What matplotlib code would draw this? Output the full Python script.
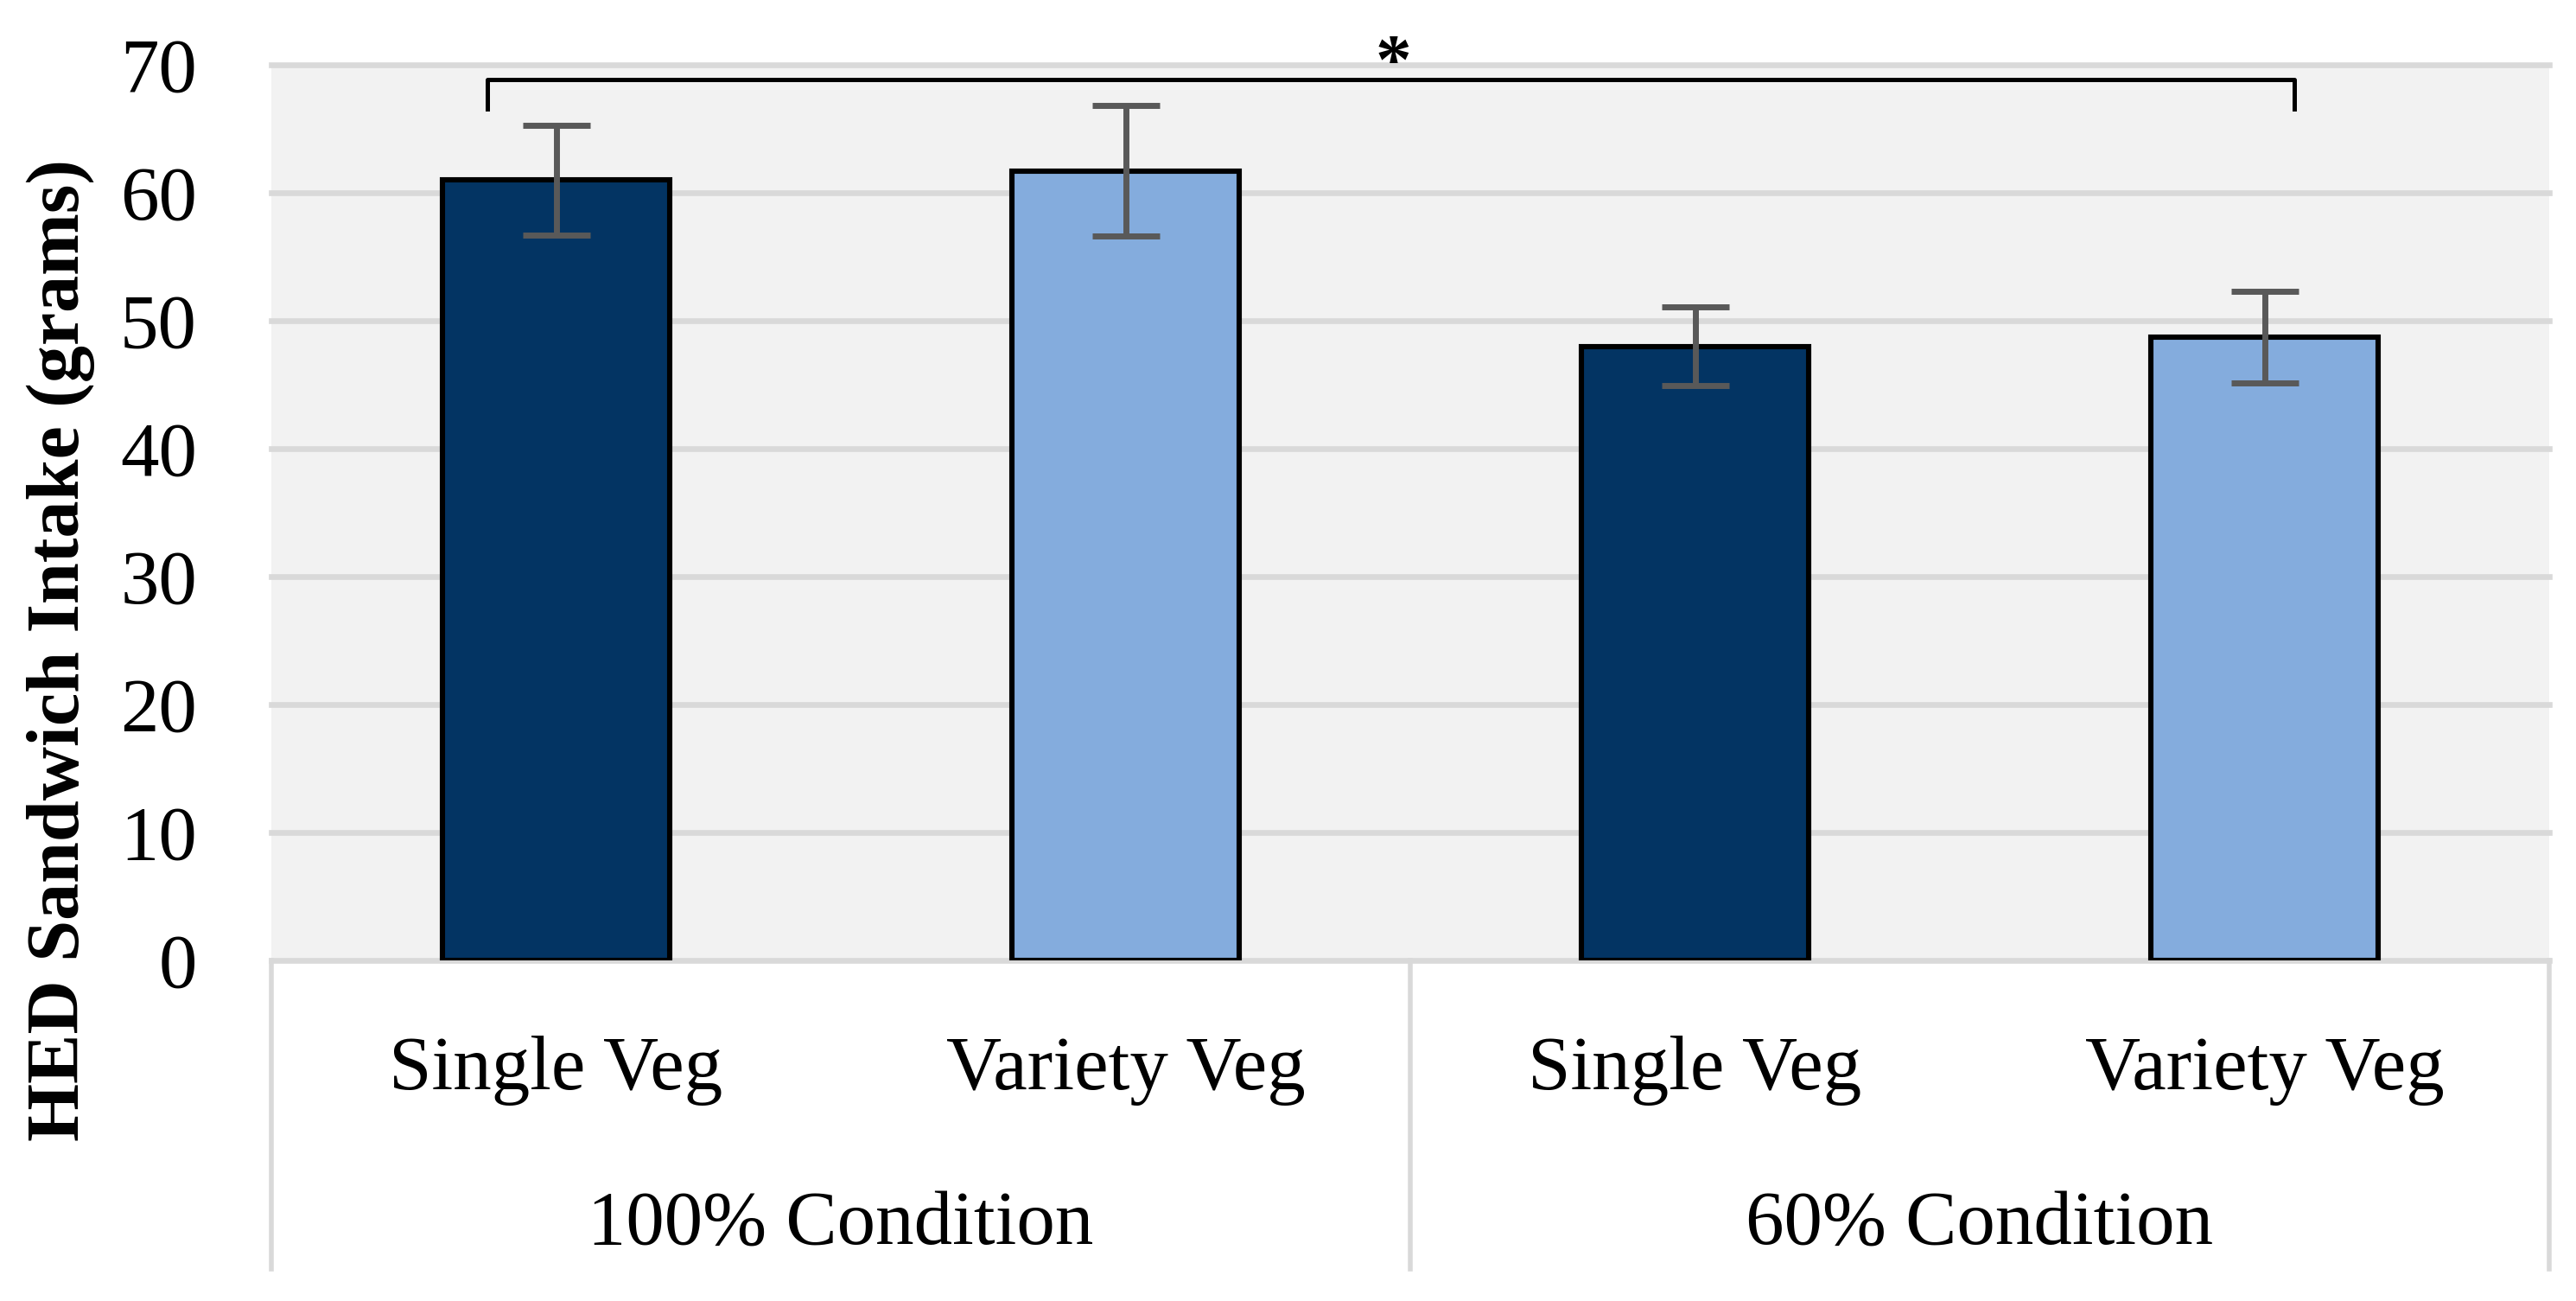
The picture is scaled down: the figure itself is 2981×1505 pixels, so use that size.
import matplotlib
matplotlib.use("Agg")
import matplotlib.pyplot as plt
import matplotlib.patches as mpatches
import matplotlib.transforms as mtransforms

# ---- data ----
conditions = ["100% Condition", "60% Condition"]
veg_types = ["Single Veg", "Variety Veg"]
means = [61.0, 61.7, 48.0, 48.7]
errors = [4.3, 5.1, 3.05, 3.6]
bar_colors = ["#033463", "#84acdd", "#033463", "#84acdd"]
y_ticks = [0, 10, 20, 30, 40, 50, 60, 70]
y_label = "HED Sandwich Intake (grams)"
sig_label = "*"

FONT = "Liberation Serif"
plt.rcParams["font.family"] = [FONT, "DejaVu Serif"]

fig = plt.figure(figsize=(2981 / 200, 1505 / 200), dpi=200)
ax = fig.add_axes([314 / 2981, 0.2618, (2950 - 314) / 2981, 0.6884])
ax.set_facecolor("#f2f2f2")

x = [i + 0.5 for i in range(len(means))]
ax.bar(x, means, width=0.4, color=bar_colors, edgecolor="black",
       linewidth=2.2, zorder=2)
ax.errorbar(x, means, yerr=errors, fmt="none", ecolor="#595959",
            elinewidth=2.5, capsize=14, capthick=2.5, zorder=3)

ax.set_xlim(0, 4)
ax.set_ylim(0, 70)
ax.set_yticks(y_ticks)
ax.set_yticklabels([str(t) for t in y_ticks], fontsize=32)
ax.set_xticks([])
ax.tick_params(axis="y", length=0, pad=31)
for s in ax.spines.values():
    s.set_visible(False)

ax.set_axisbelow(True)
ax.yaxis.grid(True, color="#d9d9d9", linewidth=2.4)
for gl in ax.get_ygridlines():
    gl.set_clip_on(False)

# category table below axis
trans = mtransforms.blended_transform_factory(ax.transData, ax.transAxes)
for xs in [0, 2, 4]:
    ax.plot([xs, xs], [0, -0.3446], transform=trans, color="#d9d9d9",
            linewidth=2.0, clip_on=False, zorder=1)
for i, xi in enumerate(x):
    ax.text(xi, -0.1438, veg_types[i % 2], transform=trans, ha="center",
            va="baseline", fontsize=32)
for j, c in enumerate(conditions):
    ax.text(2 * j + 1, -0.3157, c, transform=trans, ha="center",
            va="baseline", fontsize=32)

# significance bracket
x0, x1 = 0.379, 3.552
ax.plot([x0, x0, x1, x1], [66.55, 68.83, 68.83, 66.55], color="black",
        linewidth=1.8, clip_on=False, zorder=4)
ax.add_patch(mpatches.Rectangle((1.838, 70.2), 0.26, 3.0, facecolor="white",
                                edgecolor="none", clip_on=False, zorder=4))
ax.text(1.97, 68.6, sig_label, ha="center", va="baseline", fontsize=30,
        fontweight="bold", clip_on=False, zorder=5)

fig.text(0.0235, 0.5, y_label, rotation=90, ha="center", va="center",
         fontsize=31, fontweight="bold")

fig.savefig("out.png", dpi=200, facecolor="white")
